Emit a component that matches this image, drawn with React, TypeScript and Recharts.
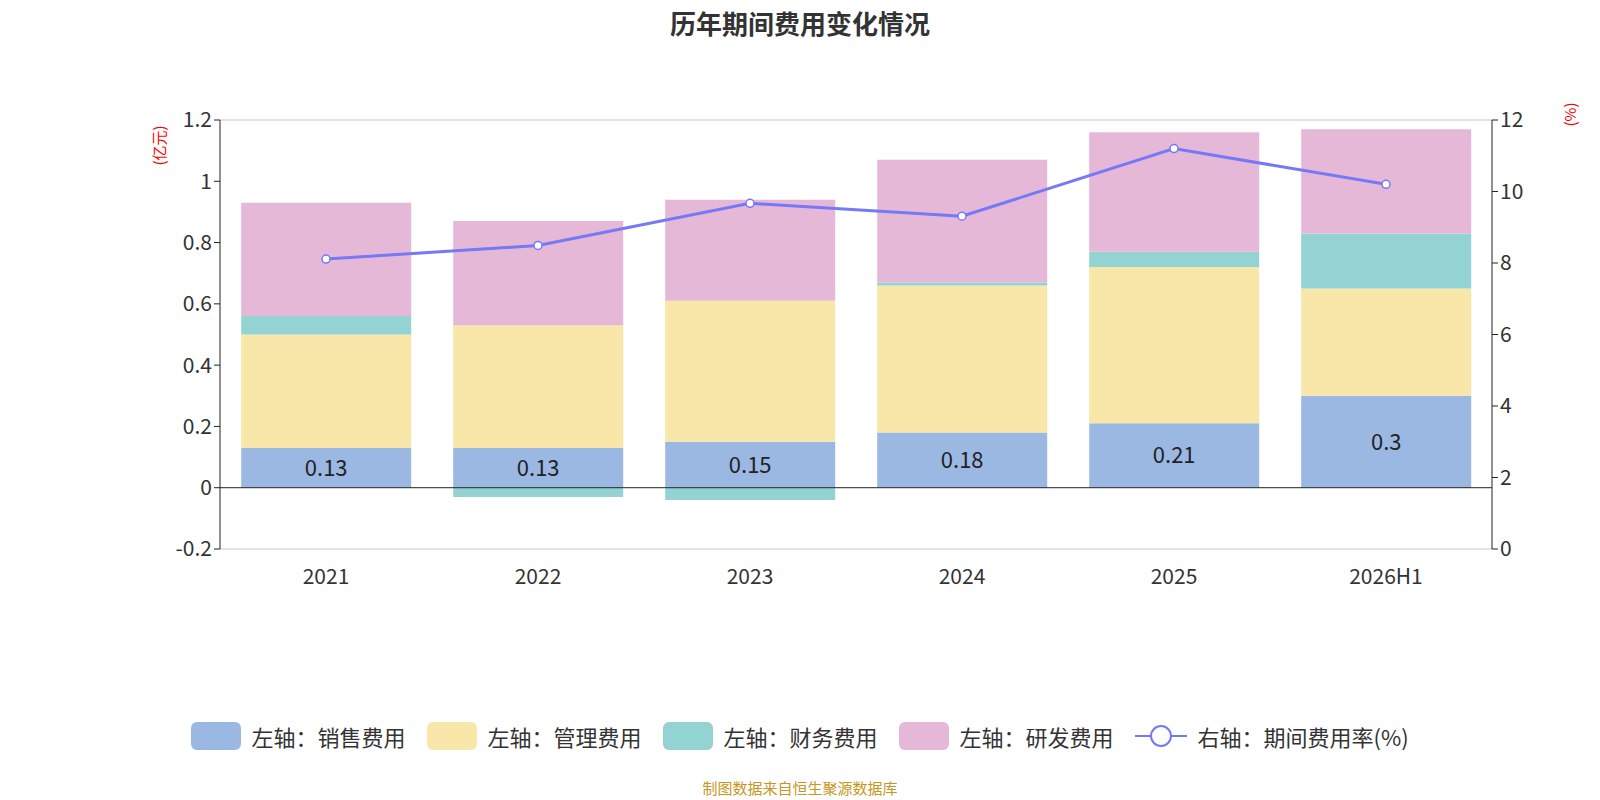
import { ComposedChart, Bar, Line, XAxis, YAxis, CartesianGrid, ReferenceLine, LabelList } from "recharts";

const years = ["2021", "2022", "2023", "2024", "2025", "2026H1"];
const sales = [0.13, 0.13, 0.15, 0.18, 0.21, 0.3];
const admin = [0.37, 0.4, 0.46, 0.48, 0.51, 0.35];
const finance = [0.06, -0.03, -0.04, 0.01, 0.05, 0.18];
const rd = [0.37, 0.34, 0.33, 0.4, 0.39, 0.34];
const rate = [8.11, 8.49, 9.67, 9.31, 11.2, 10.2];

const data = years.map((y, i) => ({
  year: y, sales: sales[i], admin: admin[i], finance: finance[i], rd: rd[i], rate: rate[i],
}));

const font = "'Noto Sans CJK SC', 'Noto Sans', sans-serif";
const legend = [
  { name: "左轴：销售费用", color: "#9bb8e2" },
  { name: "左轴：管理费用", color: "#f8e7a8" },
  { name: "左轴：财务费用", color: "#94d3d3" },
  { name: "左轴：研发费用", color: "#e6b8d8" },
];

export default function App() {
  return (
    <div style={{ position: "absolute", left: 0, top: 0, width: 1600, height: 800, background: "#fff", fontFamily: font }}>
      <div style={{ position: "absolute", top: 4, width: "100%", textAlign: "center", fontSize: 26, fontWeight: "bold", color: "#333" }}>
        历年期间费用变化情况
      </div>
      <div style={{ position: "absolute", left: 138, top: 135, transform: "rotate(-90deg)", color: "red", fontSize: 15 }}>(亿元)</div>
      <div style={{ position: "absolute", left: 1558, top: 104, transform: "rotate(-90deg)", color: "red", fontSize: 15 }}>(%)</div>
      <ComposedChart width={1600} height={800} data={data} stackOffset="sign" barCategoryGap="10%"
        margin={{ top: 120, left: 160, right: 48, bottom: 201 }} style={{ fontFamily: font }}>
        <CartesianGrid vertical={false} stroke="#c8c8c8" />
        <XAxis dataKey="year" axisLine={false} tickLine={false} height={50} tick={{ fontSize: 21, fill: "#333" }} tickMargin={14} />
        <YAxis yAxisId="l" width={60} domain={[-0.2, 1.2]} ticks={[-0.2, 0, 0.2, 0.4, 0.6, 0.8, 1, 1.2]}
          stroke="#222" tick={{ fontSize: 21, fill: "#333" }} />
        <YAxis yAxisId="r" orientation="right" width={60} domain={[0, 12]} ticks={[0, 2, 4, 6, 8, 10, 12]}
          stroke="#222" tick={{ fontSize: 21, fill: "#333" }} />
        <ReferenceLine yAxisId="l" y={0} stroke="#222" />
        <Bar yAxisId="l" dataKey="sales" stackId="a" fill="#9bb8e2" isAnimationActive={false}>
          <LabelList dataKey="sales" position="center" style={{ fontSize: 22, fill: "#222" }} />
        </Bar>
        <Bar yAxisId="l" dataKey="admin" stackId="a" fill="#f8e7a8" isAnimationActive={false} />
        <Bar yAxisId="l" dataKey="finance" stackId="a" fill="#94d3d3" isAnimationActive={false} />
        <Bar yAxisId="l" dataKey="rd" stackId="a" fill="#e6b8d8" isAnimationActive={false} />
        <Line yAxisId="r" dataKey="rate" stroke="#7579f5" strokeWidth={3} isAnimationActive={false}
          dot={{ r: 4, fill: "#fff", stroke: "#7579f5", strokeWidth: 1.5 }} />
      </ComposedChart>
      <div style={{ position: "absolute", top: 720, width: "100%", display: "flex", justifyContent: "center", gap: 22, fontSize: 22, color: "#333" }}>
        {legend.map((l) => (
          <div key={l.name} style={{ display: "flex", alignItems: "center", gap: 10 }}>
            <div style={{ width: 50, height: 28, borderRadius: 6, background: l.color }} />
            <span>{l.name}</span>
          </div>
        ))}
        <div style={{ display: "flex", alignItems: "center", gap: 10 }}>
          <svg width={52} height={28}>
            <line x1={0} y1={14} x2={52} y2={14} stroke="#7579f5" strokeWidth={2} />
            <circle cx={26} cy={14} r={10} fill="#fff" stroke="#7579f5" strokeWidth={2} />
          </svg>
          <span>右轴：期间费用率(%)</span>
        </div>
      </div>
      <div style={{ position: "absolute", top: 777, width: "100%", textAlign: "center", fontSize: 15, color: "#c8961e" }}>
        制图数据来自恒生聚源数据库
      </div>
    </div>
  );
}
